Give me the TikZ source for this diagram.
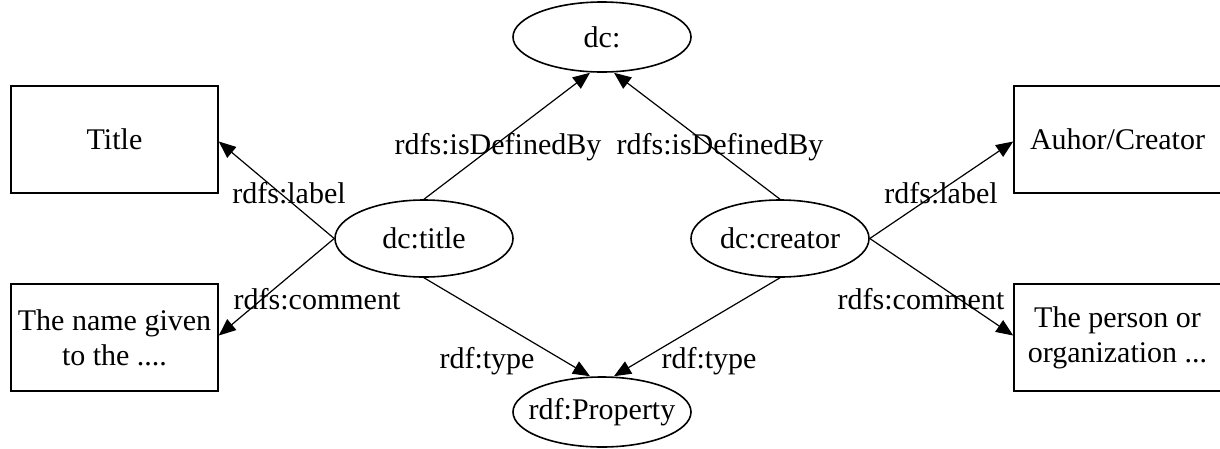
\documentclass[tikz,border=0pt]{standalone}
\usepackage{fontspec}
\setmainfont{Liberation Serif}
\usetikzlibrary{arrows.meta,shapes.geometric}
\begin{document}
\begin{tikzpicture}[x=1pt,y=-1pt,
  every node/.style={font=\fontsize{30}{35}\selectfont},
  cls/.style={draw,ellipse,line width=1.6pt,inner sep=0pt,minimum width=178pt,minimum height=74pt},
  lit/.style={draw,rectangle,line width=1.6pt,inner sep=0pt,minimum width=207pt,minimum height=107pt,align=center},
  rel/.style={line width=1.2pt,-{Triangle[length=17pt,width=14pt]}},
  lbl/.style={inner sep=0pt}]
\useasboundingbox (0,0) rectangle (1220,448);
\clip (0,0) rectangle (1220,448);

% classes and properties
\node[cls,minimum height=70pt] (dc) at (602,37) {dc:};
\node[cls,minimum height=77pt] (dctitle) at (424,238.5) {dc:title};
\node[cls,minimum height=77pt] (dccreator) at (780,238.5) {dc:creator};
\node[cls,minimum height=70pt,inner xsep=-22pt] (prop) at (602,412) {rdf:Property};

% literal values
\node[lit] (title) at (114.5,139.5) {Title};
\node[lit] (tcomment) at (114.5,337.5) {The name given\\to the ....};
\node[lit] (author) at (1117.5,139.5) {Auhor/Creator};
\node[lit] (ccomment) at (1117.5,337.5) {The person or\\organization ...};

% statements about dc:title
\draw[rel] (dctitle.north) -- ([xshift=-12pt]dc.south);
\draw[rel] (dctitle.west) -- ([yshift=-2pt]title.east);
\draw[rel] (dctitle.west) -- ([yshift=2pt]tcomment.east);
\draw[rel] (dctitle.south) -- ([xshift=-12pt]prop.north);

% statements about dc:creator
\draw[rel] (dccreator.north) -- ([xshift=12pt]dc.south);
\draw[rel] (dccreator.east) -- ([yshift=-2pt]author.west);
\draw[rel] (dccreator.east) -- ([yshift=2pt]ccomment.west);
\draw[rel] (dccreator.south) -- ([xshift=12pt]prop.north);

% edge labels
\node[lbl] (l1) at (498,147) {rdfs:isDefinedBy};
\node[lbl] (l2) at (720,147) {rdfs:isDefinedBy};
\node[lbl] (l3) at (289,193) {rdfs:label};
\node[lbl] (l4) at (941,193) {rdfs:label};
\node[lbl] (l5) at (317,299) {rdfs:comment};
\node[lbl] (l6) at (921,299) {rdfs:comment};
\node[lbl] (l7) at (487,361) {rdf:type};
\node[lbl] (l8) at (709,361) {rdf:type};
\end{tikzpicture}
\end{document}
